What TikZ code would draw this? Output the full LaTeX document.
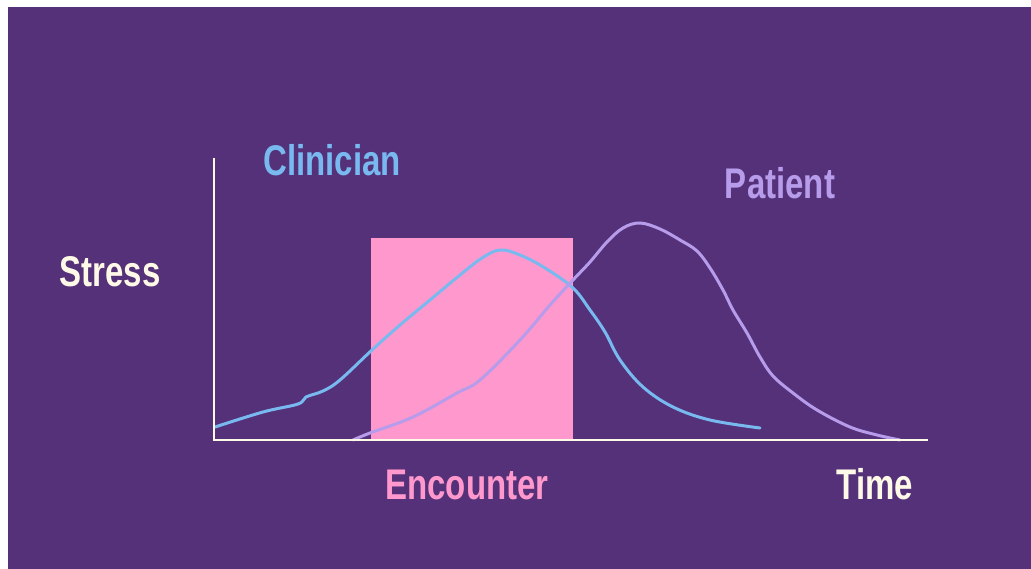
\documentclass[tikz,border=0pt]{standalone}
\usepackage{fontspec}
\setsansfont{Liberation Sans}
\usetikzlibrary{positioning}
\definecolor{bgpurple}{RGB}{85,49,122}
\definecolor{encpink}{RGB}{255,152,204}
\definecolor{clinblue}{RGB}{120,186,240}
\definecolor{patlav}{RGB}{182,156,234}
\definecolor{cream}{RGB}{255,250,232}
\newcommand{\tall}[1]{\scalebox{1}[1.3]{#1}}

\begin{document}
\begin{tikzpicture}[x=1pt, y=-1pt,
  lbl/.style={font=\fontsize{33}{36}\selectfont\sffamily\bfseries, inner sep=0pt},
  curve/.style={line width=3pt, smooth, tension=0.6, line cap=round}]
  \useasboundingbox (0,0) rectangle (1031,569);
  % Background
  \fill[white] (0,0) rectangle (1031,569);
  \fill[bgpurple] (8,7) rectangle (1031,569);

  % Encounter window
  \fill[encpink] (371,238) rectangle (573,440);

  % Curves
  \draw[curve, clinblue] plot coordinates {(215,427) (263,412) (298,404) (306,397)
    (323,391) (340,380) (372,350) (400,325) (430,300) (460,275) (482,258) (500,250)
    (520,255) (545,268) (573,288) (590,310) (605,332) (620,360) (643,387) (673,407)
    (710,420) (760,428)};
  \draw[curve, patlav] plot coordinates {(353,440) (370,433) (413,417) (457,393)
    (480,380) (520,340) (550,305) (573,280) (590,262) (607,242) (623,228) (640,223)
    (660,229) (680,240) (697,251) (710,268) (723,290) (733,310) (747,333) (760,357)
    (773,376) (793,393) (817,410) (850,427) (877,435) (900,440)};

  % Axes
  \draw[cream, line width=1.6pt] (214,158) -- (214,440) -- (928,440);

  % Labels
  \node[lbl, text=cream] (stress) at (110,272) {\tall{Stress}};
  \node[lbl, text=clinblue] (clin) at (332,160) {\tall{Clinician}};
  \node[lbl, text=patlav] (pat) at (780,183) {\tall{Patient}};
  \node[lbl, text=encpink] (enc) at (467,485) {\tall{Encounter}};
  \node[lbl, text=cream] (time) at (875,484) {\tall{Time}};
\end{tikzpicture}
\end{document}
